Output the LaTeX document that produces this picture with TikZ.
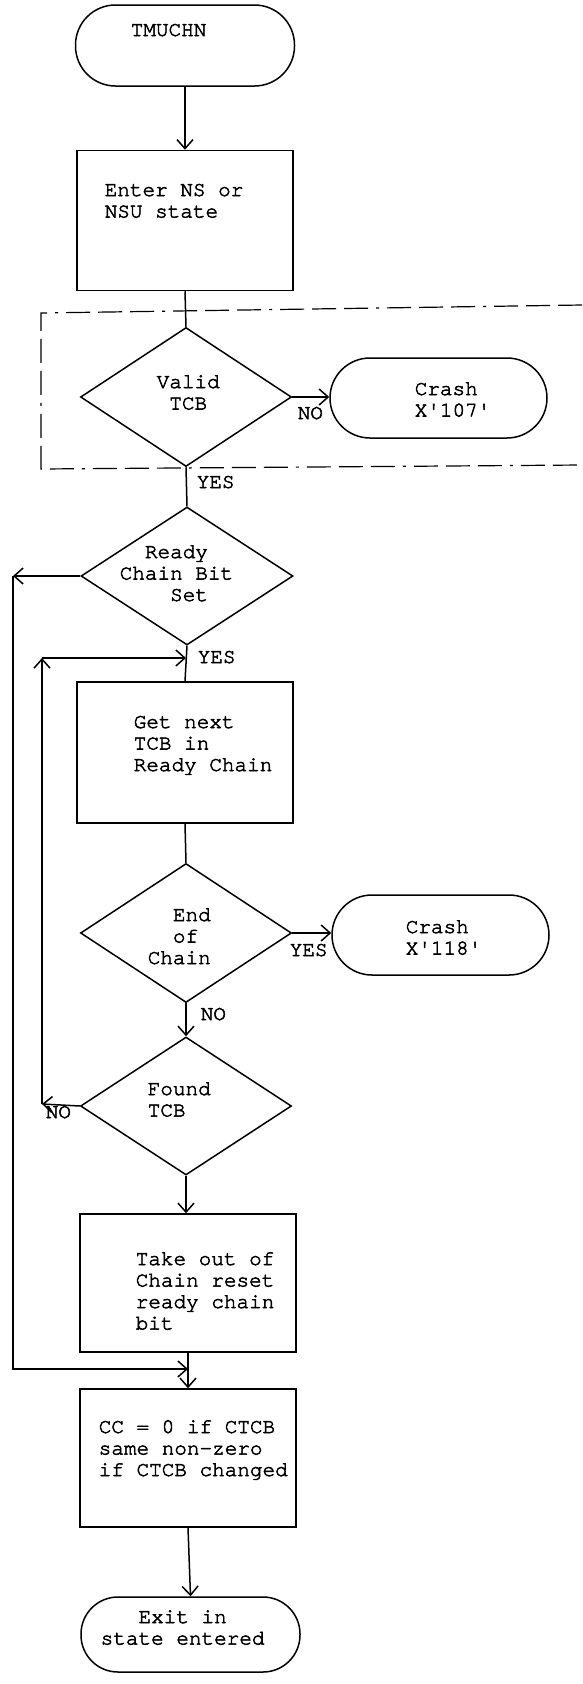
\documentclass[tikz,border=0pt]{standalone}
\usepackage{fontspec}
\newfontfamily\fcmono[FakeBold=2.5]{TeX Gyre Cursor}
\usetikzlibrary{shapes.geometric,arrows.meta}
\newcommand\fclines[1]{\begin{tabular}[t]{@{}l@{}}#1\end{tabular}}
\newcommand\q{\textquotesingle}
\begin{document}
\begin{tikzpicture}[x=1pt,y=-1pt,line width=1.5pt,
  arr/.style={-{Straight Barb[length=9pt,width=16pt]}},
  term/.style={draw,rectangle,rounded corners=#1,inner sep=0pt},
  proc/.style={draw,rectangle,inner sep=0pt,minimum width=216pt,minimum height=140pt},
  dia/.style={draw,diamond,inner sep=0pt,minimum width=211pt,minimum height=139pt},
  txt/.style={anchor=base west,inner sep=0pt,font=\fcmono\fontsize{21}{21.5}\selectfont},
  region/.style={line width=1.2pt,dash pattern=on 24pt off 8pt on 24pt off 8pt on 24pt off 8pt on 3pt off 8pt}]
\useasboundingbox (0,0) rectangle (582,1684);
% shapes
\node[term=40pt,minimum width=219pt,minimum height=81pt] (tm) at (185,45.5) {};
\node[proc] (box1) at (185,220.5) {};
\node[dia] (d1) at (186,397) {};
\node[term=40pt,minimum width=217pt,minimum height=80pt] (cr1) at (438.5,398) {};
\node[dia,minimum width=212pt,minimum height=138pt] (d2) at (187,576) {};
\node[proc,minimum height=141pt] (box2) at (185,752.5) {};
\node[dia] (d3) at (186,933) {};
\node[term=40pt,minimum width=217pt,minimum height=80pt] (cr2) at (440.5,935) {};
\node[dia,minimum height=138pt] (d4) at (186,1106) {};
\node[proc,minimum height=138pt] (box3) at (188,1283) {};
\node[proc,minimum height=138pt] (box4) at (188,1458) {};
\node[term=37pt,minimum width=219pt,minimum height=75pt] (ex) at (190.5,1634.5) {};
% dashed region
\draw[region] (582,305) -- (41,313) -- (41,469) -- (582,465);
% texts
\node[txt] (ttm) at (130,36) {TMUCHN};
\node[txt] (tb1) at (104,196) {\fclines{Enter NS or\\NSU state}};
\node[txt] (td1) at (156,388) {\fclines{Valid\\~TCB}};
\node[txt] (tc1) at (414,395) {\fclines{Crash\\X\q107\q}};
\node[txt] (ld1n) at (297,419) {NO};
\node[txt] (ld1y) at (196,488) {YES};
\node[txt] (td2) at (119,558) {\fclines{~~Ready\\Chain Bit\\~~~~Set}};
\node[txt] (ld2y) at (197,663) {YES};
\node[txt] (tb2) at (133,728) {\fclines{Get next\\TCB in\\Ready Chain}};
\node[txt] (td3) at (147,921) {\fclines{~~End\\~~of\\Chain}};
\node[txt] (ld3y) at (289,956) {YES};
\node[txt] (tc2) at (405,933) {\fclines{Crash\\X\q118\q}};
\node[txt] (ld3n) at (200,1020) {NO};
\node[txt] (td4) at (147,1095) {\fclines{Found\\TCB}};
\node[txt] (ld4n) at (45,1118) {NO};
\node[txt] (tb3) at (135,1265) {\fclines{Take out of\\Chain reset\\ready chain\\bit}};
\node[txt] (tb4) at (98,1433) {\fclines{CC = 0 if CTCB\\same non-zero\\if CTCB changed}};
\node[txt] (tex) at (100,1623) {\fclines{~~~Exit in\\state entered}};
% connector points
\coordinate (j1) at (186,658);
\coordinate (j2) at (188,1369);
\coordinate (c1) at (13,576);
\coordinate (c2) at (42,1104);
\coordinate (c3) at (42,658);
% connectors
\draw[arr] (tm.south) -- (box1.north);
\draw (box1.south) -- (d1.north);
\draw[arr] (d1.east) -- (d1.east -| cr1.west);
\draw (d1.south) -- (d2.north);
\draw[arr] (d2.west) -- (c1);
\draw[arr] (c1) |- (j2);
\draw (d2.south) -- (box2.north);
\draw (box2.south) -- (d3.north);
\draw[arr] (d3.east) -- (d3.east -| cr2.west);
\draw[arr] (d3.south) -- (d4.north);
\draw[arr] (d4.west) -- (c2);
\draw[arr] (c2) -- (c3);
\draw[arr] (c3) -- (j1);
\draw[arr] (d4.south) -- (d4.south |- box3.north);
\draw[arr] (box3.south) -- (box4.north);
\draw[arr] (box4.south) -- (ex.north);
\end{tikzpicture}
\end{document}
